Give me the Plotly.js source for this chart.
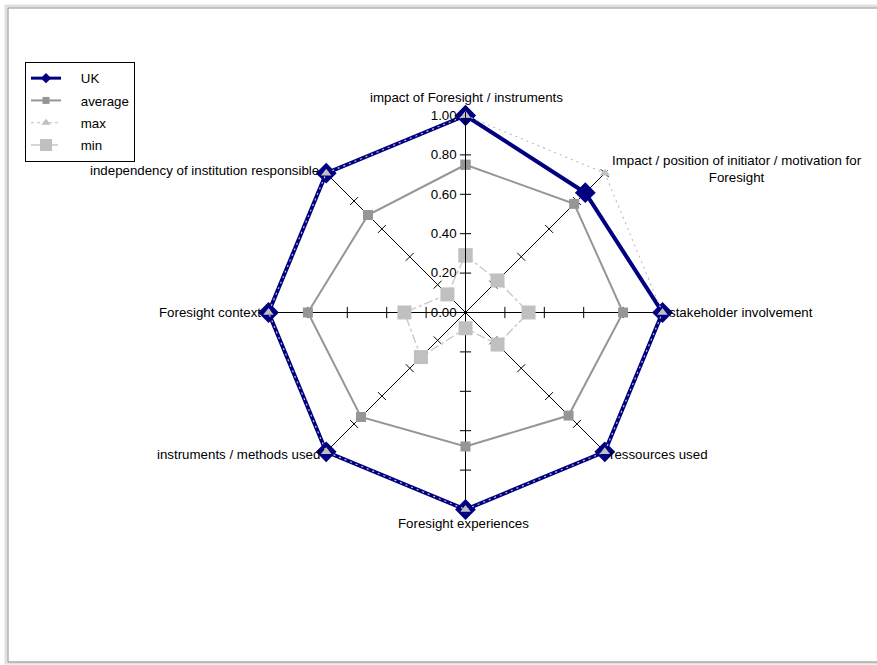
<!DOCTYPE html>
<html>
<head>
<meta charset="utf-8">
<script src="https://cdn.plot.ly/plotly-3.0.1.min.js"></script>
<style>
html,body{margin:0;padding:0;background:#fff;}
#chart{width:877px;height:665px;}
</style>
</head>
<body>
<div id="chart"></div>
<script>
// Categories (clockwise from top)
const categories = [
  "impact of Foresight / instruments",
  "Impact / position of initiator / motivation for<br>Foresight",
  "stakeholder involvement",
  "ressources used",
  "Foresight experiences",
  "instruments / methods used",
  "Foresight context",
  "independency of institution responsible"
];
const seriesNames   = ["UK", "average", "max", "min"];
const ukValues      = [1.00, 0.86, 1.00, 1.00, 1.00, 1.00, 1.00, 1.00];
const averageValues = [0.75, 0.78, 0.80, 0.74, 0.68, 0.75, 0.80, 0.70];
const maxValues     = [1.00, 1.00, 1.00, 1.00, 1.00, 1.00, 1.00, 1.00];
const minValues     = [0.29, 0.23, 0.32, 0.23, 0.08, 0.32, 0.31, 0.13];
const radialTicks   = [0, 0.2, 0.4, 0.6, 0.8, 1.0];
const radialTickLabels = ["0.00", "0.20", "0.40", "0.60", "0.80", "1.00"];

function closeLoop(a){ return a.concat([a[0]]); }
const thetaClosed = closeLoop(categories);
const NB = '\u00a0';

// Tick marks on every spoke (built from tick values)
const tickR = [], tickTheta = [], tickAngle = [];
categories.forEach((c, i) => {
  radialTicks.slice(1).forEach(v => {
    tickR.push(v); tickTheta.push(c); tickAngle.push((i * 45) % 180);
  });
});

const styles = [
  {line: {color: '#000080', width: 4}, marker: {symbol: 'diamond', size: 16, color: '#000080'},
   legLine: {color: '#000080', width: 3}, legMarker: {symbol: 'diamond', size: 8, color: '#000080'}},
  {line: {color: '#969696', width: 2}, marker: {symbol: 'square', size: 10, color: '#969696'},
   legLine: {color: '#969696', width: 2}, legMarker: {symbol: 'square', size: 7, color: '#969696'}},
  {line: {color: '#c0c0c0', width: 1.2, dash: '2px,4px'}, marker: {symbol: 'triangle-up', size: 9, color: '#c0c0c0'},
   legLine: {color: '#c0c0c0', width: 1, dash: 'dot'}, legMarker: {symbol: 'triangle-up', size: 8, color: '#c0c0c0'}},
  {line: {color: '#cccccc', width: 1.5, dash: 'dashdot'}, marker: {symbol: 'square', size: 14, color: '#c0c0c0'},
   legLine: {color: '#c8c8c8', width: 1.5, dash: 'dashdot'}, legMarker: {symbol: 'square', size: 12, color: '#c0c0c0'}}
];

const traces = [
  {
    type: 'scatterpolar', r: tickR, theta: tickTheta, mode: 'markers',
    marker: {symbol: 'line-ew', size: 8, angle: tickAngle, line: {color: '#000', width: 1}},
    showlegend: false, hoverinfo: 'skip'
  },
  {type: 'scatterpolar', name: 'UK', r: closeLoop(ukValues), theta: thetaClosed,
   mode: 'lines+markers', line: styles[0].line, marker: styles[0].marker, showlegend: false},
  {type: 'scatterpolar', name: 'average', r: closeLoop(averageValues), theta: thetaClosed,
   mode: 'lines+markers', line: styles[1].line, marker: styles[1].marker, showlegend: false},
  {type: 'scatterpolar', name: 'max', r: closeLoop(maxValues), theta: thetaClosed,
   mode: 'lines+markers', line: styles[2].line, marker: styles[2].marker, showlegend: false},
  {type: 'scatterpolar', name: 'min', r: closeLoop(minValues), theta: thetaClosed,
   mode: 'lines+markers', line: styles[3].line, marker: styles[3].marker, showlegend: false}
];
// legend entries (no data points, legend styling only)
seriesNames.forEach((n, i) => {
  traces.push({
    type: 'scatterpolar', name: NB + NB + NB + NB + n, r: [null], theta: [null],
    mode: 'lines+markers', line: styles[i].legLine, marker: styles[i].legMarker,
    showlegend: true, legendgroup: 'g' + i
  });
});

// Category label placement (pixel centres / anchors)
const labelPos = [
  {x: 466, y: 97,  xa: 'center'},
  {x: 610, y: 169, xa: 'left'},
  {x: 667, y: 312, xa: 'left'},
  {x: 608, y: 454, xa: 'left'},
  {x: 464, y: 523, xa: 'center'},
  {x: 322, y: 454, xa: 'right'},
  {x: 263, y: 312, xa: 'right'},
  {x: 321, y: 170, xa: 'right'}
];
const annotations = categories.map((c, i) => ({
  text: c, xref: 'paper', yref: 'paper',
  x: labelPos[i].x / 877, y: 1 - labelPos[i].y / 665,
  xanchor: labelPos[i].xa, yanchor: 'middle', align: 'center',
  showarrow: false, font: {size: 13.3}
}));

// small headroom beyond 1.0 so the thick UK outline is not clipped
const rMax = 1.02;
const cx = 465.5, cy = 312.5, R = 197 * rMax;
const layout = {
  width: 877, height: 665,
  margin: {l: 0, r: 0, t: 0, b: 0},
  paper_bgcolor: '#fff',
  font: {family: 'Liberation Sans, Arial, sans-serif', size: 13.3, color: '#000'},
  showlegend: true,
  legend: {
    x: 25 / 877, y: 1 - 62 / 665, xanchor: 'left', yanchor: 'top',
    bgcolor: '#fff', bordercolor: '#000', borderwidth: 1,
    font: {size: 13.3}, tracegroupgap: 2
  },
  polar: {
    domain: {x: [(cx - R) / 877, (cx + R) / 877], y: [(665 - cy - R) / 665, (665 - cy + R) / 665]},
    gridshape: 'linear',
    bgcolor: 'rgba(0,0,0,0)',
    radialaxis: {
      range: [0, rMax], angle: 90, side: 'counterclockwise', tickangle: 90,
      tickvals: radialTicks, ticktext: radialTickLabels.map(t => t + NB),
      showgrid: false, showline: true, linecolor: '#000', linewidth: 1,
      ticks: '', tickfont: {size: 13.3}
    },
    angularaxis: {
      rotation: 90, direction: 'clockwise',
      showgrid: true, gridcolor: '#000', gridwidth: 1,
      showline: false, ticks: '', showticklabels: false
    }
  },
  annotations: annotations,
  shapes: [
    {type: 'rect', xref: 'paper', yref: 'paper', x0: 6/877, x1: 1.01, y0: 1 - 663/665, y1: 1 - 6/665,
     line: {color: '#e0e0e0', width: 3}},
    {type: 'rect', xref: 'paper', yref: 'paper', x0: 8/877, x1: 1.01, y0: 1 - 662/665, y1: 1 - 8/665,
     line: {color: '#909090', width: 1}}
  ]
};

Plotly.newPlot('chart', traces, layout, {displayModeBar: false, staticPlot: true});
</script>
</body>
</html>
